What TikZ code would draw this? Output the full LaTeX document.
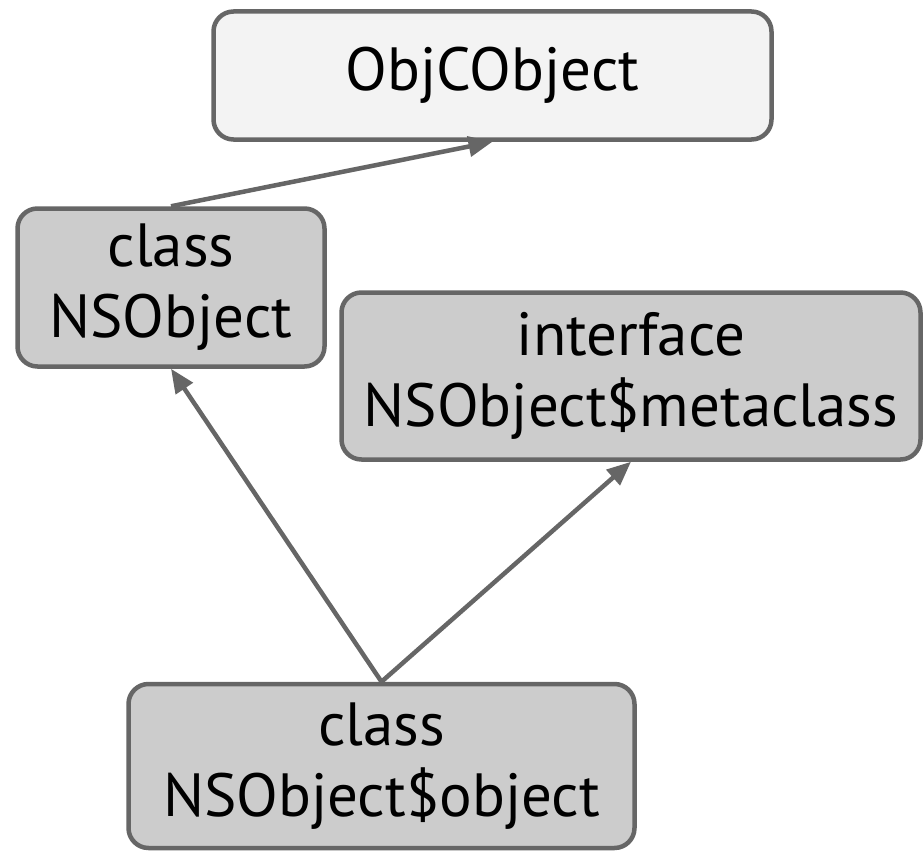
\documentclass[tikz,border=0pt]{standalone}
\usepackage{fontspec}
\setmainfont{PT Sans}
\usetikzlibrary{arrows.meta}
\definecolor{edgegray}{HTML}{666666}
\definecolor{lightfill}{HTML}{F3F3F3}
\definecolor{darkfill}{HTML}{CCCCCC}
\tikzset{
  box/.style={draw=edgegray, line width=4.5pt, rounded corners=20pt, align=center,
    inner sep=0pt, font=\fontsize{61}{71}\selectfont, text=black},
  conn/.style={draw=edgegray, line width=4.5pt, -{Triangle[length=24pt,width=20pt]}}
}
\begin{document}
\begin{tikzpicture}[x=1pt,y=-1pt]
\useasboundingbox (0,0) rectangle (924,851);
\node[box, fill=lightfill, minimum width=558pt, minimum height=128pt] (objc) at (492.5,75.5) {ObjCObject};
\node[box, fill=darkfill, minimum width=307pt, minimum height=158pt] (nsobj) at (171,287.5) {class\\NSObject};
\node[box, fill=darkfill, minimum width=579pt, minimum height=167pt] (meta) at (631,376) {interface\\NSObject\$metaclass};
\node[box, fill=darkfill, minimum width=506pt, minimum height=164pt] (inst) at (381.5,766) {class\\NSObject\$object};
\draw[conn] (nsobj.north) -- (objc.south);
\draw[conn] (inst.north) -- (nsobj.south);
\draw[conn] (inst.north) -- (meta.south);
\end{tikzpicture}
\end{document}
